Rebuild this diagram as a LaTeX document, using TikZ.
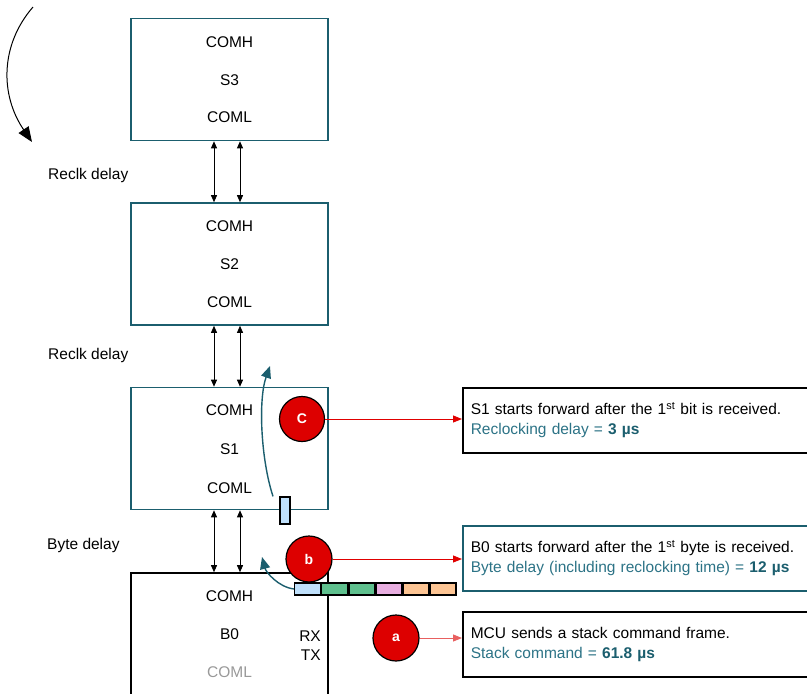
\documentclass[tikz,border=0pt]{standalone}
\usepackage{fontspec}
\setmainfont{Liberation Sans}
\usetikzlibrary{arrows.meta,calc}
\definecolor{tealb}{HTML}{1B5E6E}
\definecolor{tealt}{HTML}{2C7386}
\definecolor{redc}{HTML}{DD0000}
\definecolor{redl}{HTML}{E00000}
\definecolor{redlite}{HTML}{E86060}
\definecolor{cblue}{HTML}{BFE0FB}
\definecolor{cgreen}{HTML}{5FC08E}
\definecolor{cpink}{HTML}{E8AEE0}
\definecolor{corange}{HTML}{FDC594}
\tikzset{
  devbox/.style={draw=tealb,line width=1.6pt,minimum width=197pt,minimum height=122pt,inner sep=0pt},
  lbl/.style={inner sep=0pt},
  link/.style={line width=0.8pt,{Triangle[length=7pt,width=6pt]}-{Triangle[length=7pt,width=6pt]}},
  marker/.style={circle,fill=redc,draw=black,line width=1.2pt,minimum size=45pt,inner sep=0pt,text=white,font=\fontsize{14}{16}\selectfont\bfseries},
  redarr/.style={draw=redl,line width=0.9pt,-{Triangle[length=9pt,width=7pt]}},
  note/.style={draw=black,line width=1.6pt,anchor=north west,minimum width=345pt,minimum height=65pt,text width=329pt,inner xsep=8pt,align=left},
  cell/.style={draw=black,line width=1.3pt,minimum width=25.8pt,minimum height=12pt,inner sep=0pt,anchor=west},
  tealarr/.style={draw=tealb,line width=1.4pt,-{Triangle[length=12pt,width=10pt]}}
}
\newcommand{\hi}[1]{\textbf{\color{tealb}#1}}
\begin{document}
\begin{tikzpicture}[x=1pt,y=-1pt,font=\fontsize{15.5}{20}\selectfont]
\clip (0,0) rectangle (807,694);
\fill[white] (0,0) rectangle (807,694);
% device boxes
\node[devbox] (s3) at (229.5,79.5) {};
\node[devbox] (s2) at (229.5,264) {};
\node[devbox] (s1) at (229.5,448.5) {};
\node[devbox,draw=black,minimum height=135pt] (b0) at (229.5,640.5) {};
% texts in boxes
\node[lbl] (s3h) at (229.5,42) {COMH};
\node[lbl] (s3n) at (229.5,80) {S3};
\node[lbl] (s3l) at (229.5,117) {COML};
\node[lbl] (s2h) at (229.5,226) {COMH};
\node[lbl] (s2n) at (229.5,264) {S2};
\node[lbl] (s2l) at (229.5,302) {COML};
\node[lbl] (s1h) at (229.5,410) {COMH};
\node[lbl] (s1n) at (229.5,449) {S1};
\node[lbl] (s1l) at (229.5,488) {COML};
\node[lbl] (b0h) at (229.5,596) {COMH};
\node[lbl] (b0n) at (229.5,634) {B0};
\node[lbl,text=black!40] (b0l) at (229.5,672) {COML};
\node[lbl,anchor=east] (rx) at (321,636) {RX};
\node[lbl,anchor=east] (tx) at (321,655) {TX};
% delay labels
\node[lbl,anchor=west] (d1) at (48,175) {Reclk delay};
\node[lbl,anchor=west] (d2) at (48,355) {Reclk delay};
\node[lbl,anchor=west] (d3) at (47,545) {Byte delay};
% links
\foreach \a/\b in {s3/s2,s2/s1,s1/b0}{
  \draw[link] ($(\a.south)+(-15.5,0)$) -- ($(\b.north)+(-15.5,0)$);
  \draw[link] ($(\a.south)+(10.5,0)$) -- ($(\b.north)+(10.5,0)$);
}
% top-left curved arrow
\coordinate (ts) at (33,7);
\coordinate (te) at (32,142);
\draw[line width=1pt,-{Triangle[length=15pt,width=12pt]}] (ts) .. controls (0,45) and (0,95) .. (te);
% small blue rect in S1
\node[draw=black,line width=1.3pt,fill=cblue,minimum width=10pt,minimum height=27pt,inner sep=0pt] (bit) at (285,510.5) {};
% teal curve in S1
\draw[tealarr] (bit.north -| 273,0) .. controls (261,460) and (258,400) .. (270,366);
% byte cells
\node[cell,fill=cblue] (c1) at (294,589) {};
\node[cell,fill=cgreen] (c2) at (c1.east) {};
\node[cell,fill=cgreen] (c3) at (c2.east) {};
\node[cell,fill=cpink] (c4) at (c3.east) {};
\node[cell,fill=corange] (c5) at (c4.east) {};
\node[cell,fill=corange] (c6) at (c5.east) {};
\draw[tealarr] (c1.west) .. controls (278,587) and (266,572) .. (262,557);
% markers
\node[marker] (mc) at (302,419) {C};
\node[marker,minimum size=46pt] (mb) at (309,559) {b};
\node[marker,minimum size=46pt] (ma) at (396,638) {a};
% notes
\node[note] (n1) at (462,387) {S1 starts forward after the 1\textsuperscript{st} bit is received.\\{\color{tealt}Reclocking delay = \hi{3 µs}}};
\node[note,draw=tealb] (n2) at (462,525) {B0 starts forward after the 1\textsuperscript{st} byte is received.\\{\color{tealt}Byte delay (including reclocking time) = \hi{12 µs}}};
\node[note] (n3) at (462,611) {MCU sends a stack command frame.\\{\color{tealt}Stack command = \hi{61.8 µs}}};
% red arrows
\draw[redarr] (mc.east) -- (mc.east -| n1.west);
\draw[redarr] (mb.east) -- (mb.east -| n2.west);
\draw[redarr,draw=redlite] (ma.east) -- (ma.east -| n3.west);
\end{tikzpicture}
\end{document}
